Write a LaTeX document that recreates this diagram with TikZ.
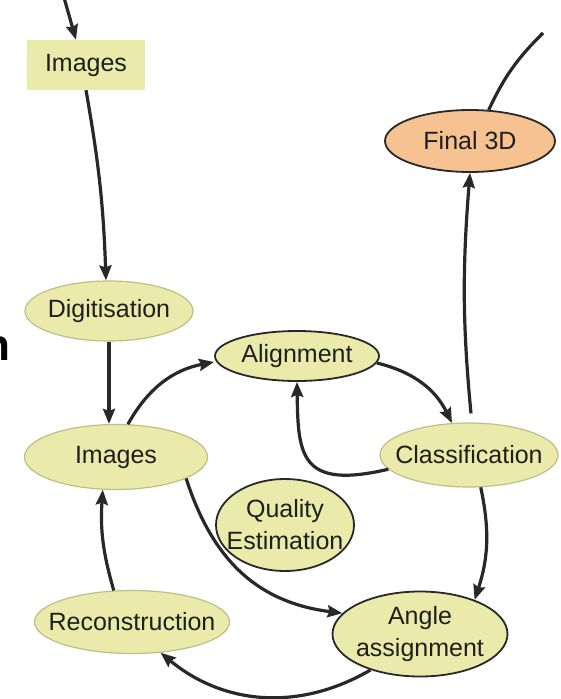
\documentclass[tikz,border=0pt]{standalone}
\usepackage{fontspec}
\setmainfont{Liberation Sans}
\usetikzlibrary{
    arrows.meta,
    shapes.geometric
}

\definecolor{cellfill}{RGB}{234,235,170}
\definecolor{finalfill}{RGB}{246,194,145}
\definecolor{linkgray}{RGB}{40,40,40}
\definecolor{paleedge}{RGB}{190,190,135}

\tikzset{
    stage/.style={ellipse, fill=cellfill, draw=paleedge, line width=1.2pt,
        inner xsep=-20pt, inner ysep=0pt, text=black!88, align=center,
        font=\fontsize{25}{32}\selectfont},
    keystage/.style={stage, draw=linkgray, line width=1.8pt},
    flow/.style={draw=linkgray, line width=3.2pt,
        -{Stealth[length=15pt,width=12pt,inset=2pt]}},
    plainflow/.style={draw=linkgray, line width=3.2pt}
}

\begin{document}
\begin{tikzpicture}[x=1pt,y=-1pt]

\useasboundingbox (0,0) rectangle (560,699);

% Cut-off word on the left
\node[anchor=base east, inner sep=0pt, font=\fontsize{44}{44}\selectfont\bfseries] (cut) at (11,360) {n};

% Raw images
\node[fill=cellfill, minimum width=118pt, minimum height=50pt, inner sep=0pt,
      text=black!88, font=\fontsize{25}{32}\selectfont] (imgtop) at (86,65) {Images};

% Digitisation and images
\node[stage, minimum width=168pt, minimum height=60pt] (digit) at (109,311) {Digitisation};
\node[stage, minimum width=183pt, minimum height=65pt] (images) at (116,457) {Images};

% Refinement loop
\node[keystage, minimum width=164pt, minimum height=50pt] (align) at (297,356) {Alignment};
\node[stage, minimum width=178pt, minimum height=64pt] (class) at (469,455) {Classification};
\node[keystage, minimum width=138pt, minimum height=92pt] (quality) at (285,525) {Quality\\Estimation};
\node[keystage, minimum width=175pt, minimum height=85pt] (angle) at (420,634) {Angle\\assignment};
\node[stage, minimum width=195pt, minimum height=63pt] (recon) at (132,622) {Reconstruction};

% Final map
\node[keystage, fill=finalfill, minimum width=170pt, minimum height=62pt] (final) at (470,141) {Final 3D};

% Loose ends
\coordinate (in) at (63,-6);
\coordinate (out) at (543,33);

% Straight path down
\draw[flow] (in) -- ([xshift=-10pt]imgtop.north);
\draw[flow] (imgtop.south) to[bend left=4] ([xshift=-3pt]digit.north);
\draw[flow] (digit.south) -- (images.north -| digit.south);

% Loop
\draw[flow] (images.70) to[bend left=25] ([yshift=-6pt]align.west);
\draw[flow] (align.-5) to[bend left=25] (class.118);
\draw[flow] (class.190) .. controls (300,490) and (298,455) .. (align.south);
\draw[flow] (images.-17) .. controls (214,565) and (262,603) .. (angle.165);
\draw[flow] (class.-70) to[bend left=15] (angle.32);
\draw[flow] (angle.216) to[bend left=35] (recon.-47);
\draw[flow] (recon.120) to[bend left=10] (images.248);

% Out to the final map
\draw[flow, shorten <=9pt] (class.85) to[bend left=5] (final.south);
\draw[plainflow] (final.59) to[bend left=10] (out);

\end{tikzpicture}
\end{document}
